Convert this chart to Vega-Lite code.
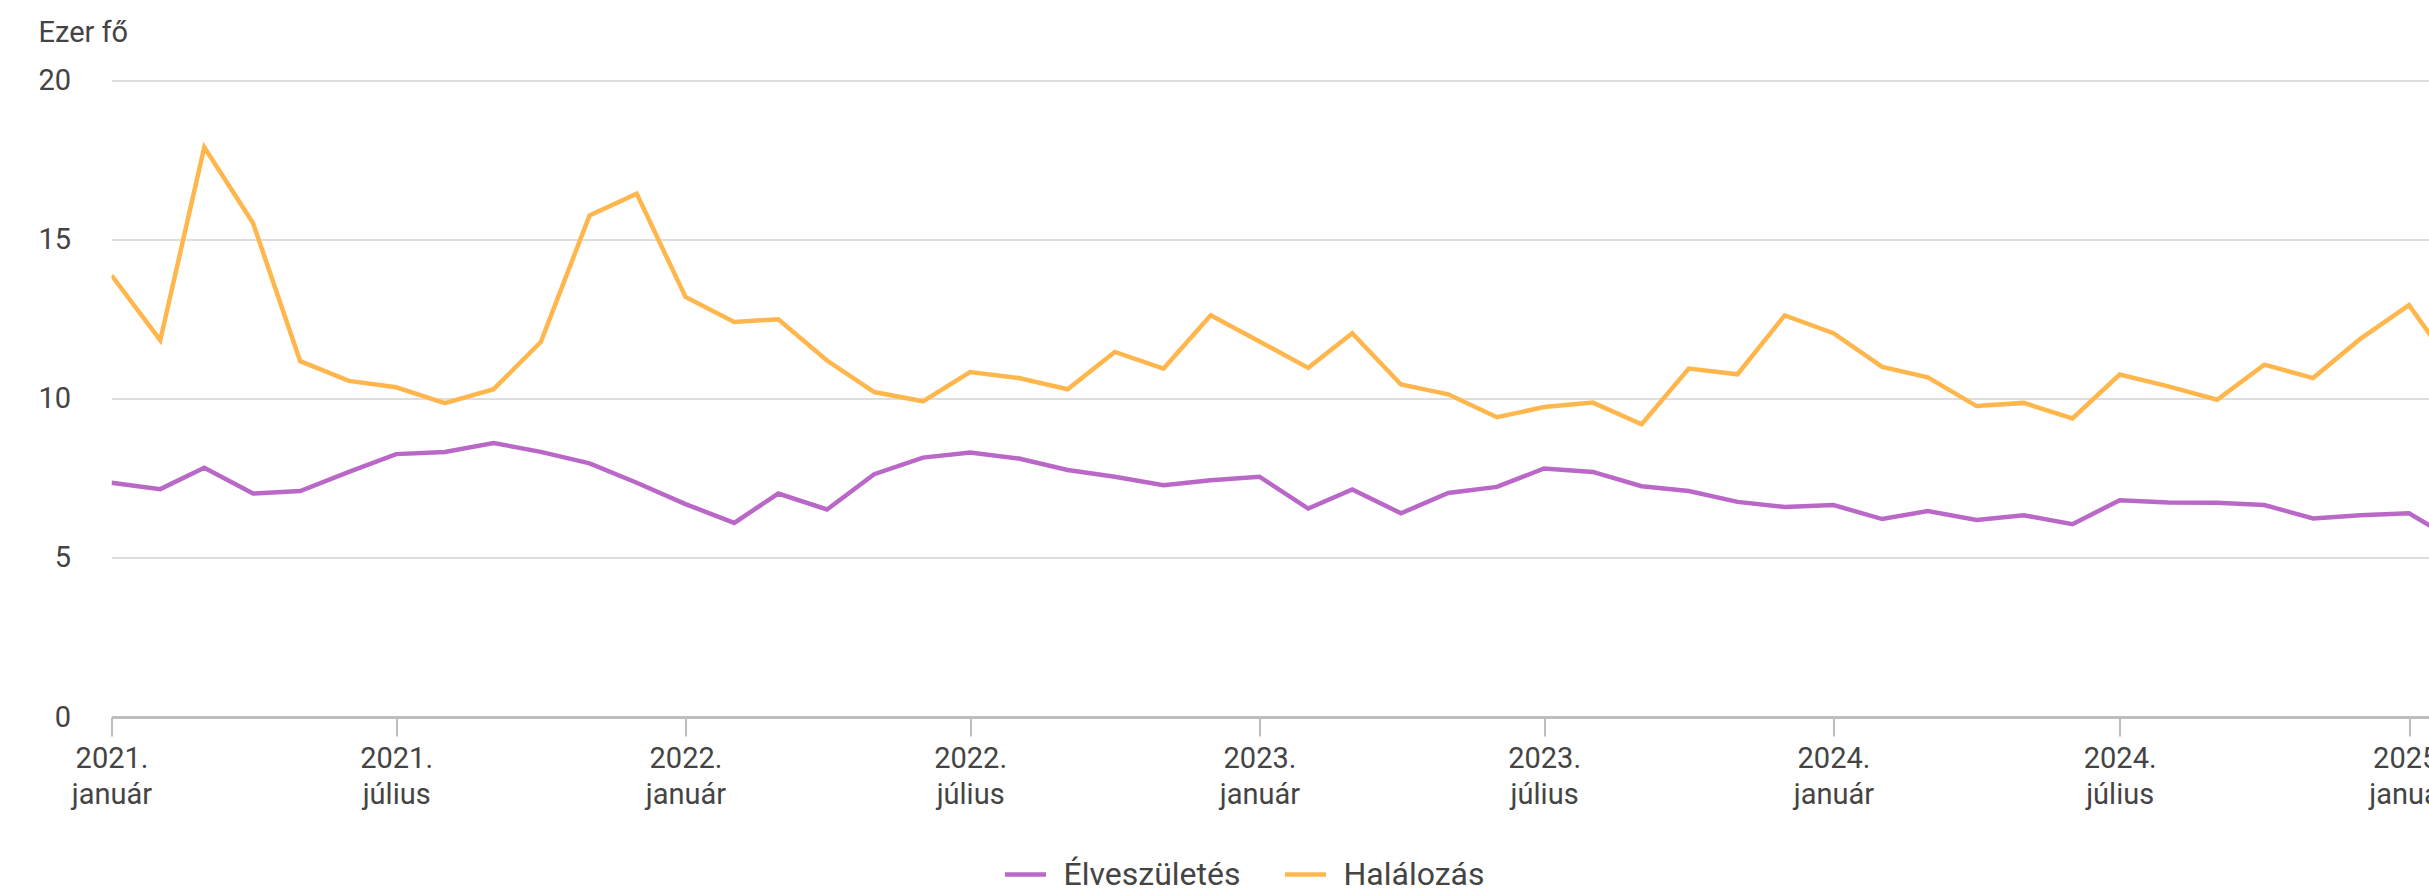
{
  "$schema": "https://vega.github.io/schema/vega-lite/v6.json",
  "width": 2317.5,
  "height": 636.5,
  "autosize": "none",
  "padding": {"left": 111.5, "top": 80.5, "right": 0, "bottom": 178},
  "background": "white",
  "config": {"view": {"stroke": null}, "font": "Roboto"},
  "data": {"values": [
    {"honap": "2021-01-01", "sorozat": "Élveszületés", "ertek": 7.36},
    {"honap": "2021-02-01", "sorozat": "Élveszületés", "ertek": 7.16},
    {"honap": "2021-03-01", "sorozat": "Élveszületés", "ertek": 7.83},
    {"honap": "2021-04-01", "sorozat": "Élveszületés", "ertek": 7.02},
    {"honap": "2021-05-01", "sorozat": "Élveszületés", "ertek": 7.1},
    {"honap": "2021-06-01", "sorozat": "Élveszületés", "ertek": 7.7},
    {"honap": "2021-07-01", "sorozat": "Élveszületés", "ertek": 8.26},
    {"honap": "2021-08-01", "sorozat": "Élveszületés", "ertek": 8.33},
    {"honap": "2021-09-01", "sorozat": "Élveszületés", "ertek": 8.61},
    {"honap": "2021-10-01", "sorozat": "Élveszületés", "ertek": 8.33},
    {"honap": "2021-11-01", "sorozat": "Élveszületés", "ertek": 7.97},
    {"honap": "2021-12-01", "sorozat": "Élveszületés", "ertek": 7.36},
    {"honap": "2022-01-01", "sorozat": "Élveszületés", "ertek": 6.69},
    {"honap": "2022-02-01", "sorozat": "Élveszületés", "ertek": 6.1},
    {"honap": "2022-03-01", "sorozat": "Élveszületés", "ertek": 7.02},
    {"honap": "2022-04-01", "sorozat": "Élveszületés", "ertek": 6.52},
    {"honap": "2022-05-01", "sorozat": "Élveszületés", "ertek": 7.63},
    {"honap": "2022-06-01", "sorozat": "Élveszületés", "ertek": 8.15},
    {"honap": "2022-07-01", "sorozat": "Élveszületés", "ertek": 8.31},
    {"honap": "2022-08-01", "sorozat": "Élveszületés", "ertek": 8.12},
    {"honap": "2022-09-01", "sorozat": "Élveszületés", "ertek": 7.76},
    {"honap": "2022-10-01", "sorozat": "Élveszületés", "ertek": 7.55},
    {"honap": "2022-11-01", "sorozat": "Élveszületés", "ertek": 7.28},
    {"honap": "2022-12-01", "sorozat": "Élveszületés", "ertek": 7.44},
    {"honap": "2023-01-01", "sorozat": "Élveszületés", "ertek": 7.55},
    {"honap": "2023-02-01", "sorozat": "Élveszületés", "ertek": 6.55},
    {"honap": "2023-03-01", "sorozat": "Élveszületés", "ertek": 7.15},
    {"honap": "2023-04-01", "sorozat": "Élveszületés", "ertek": 6.4},
    {"honap": "2023-05-01", "sorozat": "Élveszületés", "ertek": 7.04},
    {"honap": "2023-06-01", "sorozat": "Élveszületés", "ertek": 7.23},
    {"honap": "2023-07-01", "sorozat": "Élveszületés", "ertek": 7.81},
    {"honap": "2023-08-01", "sorozat": "Élveszületés", "ertek": 7.7},
    {"honap": "2023-09-01", "sorozat": "Élveszületés", "ertek": 7.25},
    {"honap": "2023-10-01", "sorozat": "Élveszületés", "ertek": 7.1},
    {"honap": "2023-11-01", "sorozat": "Élveszületés", "ertek": 6.76},
    {"honap": "2023-12-01", "sorozat": "Élveszületés", "ertek": 6.6},
    {"honap": "2024-01-01", "sorozat": "Élveszületés", "ertek": 6.66},
    {"honap": "2024-02-01", "sorozat": "Élveszületés", "ertek": 6.22},
    {"honap": "2024-03-01", "sorozat": "Élveszületés", "ertek": 6.47},
    {"honap": "2024-04-01", "sorozat": "Élveszületés", "ertek": 6.19},
    {"honap": "2024-05-01", "sorozat": "Élveszületés", "ertek": 6.34},
    {"honap": "2024-06-01", "sorozat": "Élveszületés", "ertek": 6.06},
    {"honap": "2024-07-01", "sorozat": "Élveszületés", "ertek": 6.81},
    {"honap": "2024-08-01", "sorozat": "Élveszületés", "ertek": 6.74},
    {"honap": "2024-09-01", "sorozat": "Élveszületés", "ertek": 6.73},
    {"honap": "2024-10-01", "sorozat": "Élveszületés", "ertek": 6.66},
    {"honap": "2024-11-01", "sorozat": "Élveszületés", "ertek": 6.24},
    {"honap": "2024-12-01", "sorozat": "Élveszületés", "ertek": 6.34},
    {"honap": "2025-01-01", "sorozat": "Élveszületés", "ertek": 6.4},
    {"honap": "2025-02-01", "sorozat": "Élveszületés", "ertek": 5.5},
    {"honap": "2021-01-01", "sorozat": "Halálozás", "ertek": 13.88},
    {"honap": "2021-02-01", "sorozat": "Halálozás", "ertek": 11.84},
    {"honap": "2021-03-01", "sorozat": "Halálozás", "ertek": 17.9},
    {"honap": "2021-04-01", "sorozat": "Halálozás", "ertek": 15.52},
    {"honap": "2021-05-01", "sorozat": "Halálozás", "ertek": 11.18},
    {"honap": "2021-06-01", "sorozat": "Halálozás", "ertek": 10.56},
    {"honap": "2021-07-01", "sorozat": "Halálozás", "ertek": 10.36},
    {"honap": "2021-08-01", "sorozat": "Halálozás", "ertek": 9.86},
    {"honap": "2021-09-01", "sorozat": "Halálozás", "ertek": 10.3},
    {"honap": "2021-10-01", "sorozat": "Halálozás", "ertek": 11.78},
    {"honap": "2021-11-01", "sorozat": "Halálozás", "ertek": 15.76},
    {"honap": "2021-12-01", "sorozat": "Halálozás", "ertek": 16.44},
    {"honap": "2022-01-01", "sorozat": "Halálozás", "ertek": 13.2},
    {"honap": "2022-02-01", "sorozat": "Halálozás", "ertek": 12.41},
    {"honap": "2022-03-01", "sorozat": "Halálozás", "ertek": 12.5},
    {"honap": "2022-04-01", "sorozat": "Halálozás", "ertek": 11.2},
    {"honap": "2022-05-01", "sorozat": "Halálozás", "ertek": 10.21},
    {"honap": "2022-06-01", "sorozat": "Halálozás", "ertek": 9.92},
    {"honap": "2022-07-01", "sorozat": "Halálozás", "ertek": 10.84},
    {"honap": "2022-08-01", "sorozat": "Halálozás", "ertek": 10.65},
    {"honap": "2022-09-01", "sorozat": "Halálozás", "ertek": 10.3},
    {"honap": "2022-10-01", "sorozat": "Halálozás", "ertek": 11.47},
    {"honap": "2022-11-01", "sorozat": "Halálozás", "ertek": 10.95},
    {"honap": "2022-12-01", "sorozat": "Halálozás", "ertek": 12.62},
    {"honap": "2023-01-01", "sorozat": "Halálozás", "ertek": 11.8},
    {"honap": "2023-02-01", "sorozat": "Halálozás", "ertek": 10.97},
    {"honap": "2023-03-01", "sorozat": "Halálozás", "ertek": 12.06},
    {"honap": "2023-04-01", "sorozat": "Halálozás", "ertek": 10.45},
    {"honap": "2023-05-01", "sorozat": "Halálozás", "ertek": 10.14},
    {"honap": "2023-06-01", "sorozat": "Halálozás", "ertek": 9.42},
    {"honap": "2023-07-01", "sorozat": "Halálozás", "ertek": 9.74},
    {"honap": "2023-08-01", "sorozat": "Halálozás", "ertek": 9.88},
    {"honap": "2023-09-01", "sorozat": "Halálozás", "ertek": 9.2},
    {"honap": "2023-10-01", "sorozat": "Halálozás", "ertek": 10.95},
    {"honap": "2023-11-01", "sorozat": "Halálozás", "ertek": 10.77},
    {"honap": "2023-12-01", "sorozat": "Halálozás", "ertek": 12.62},
    {"honap": "2024-01-01", "sorozat": "Halálozás", "ertek": 12.06},
    {"honap": "2024-02-01", "sorozat": "Halálozás", "ertek": 11.0},
    {"honap": "2024-03-01", "sorozat": "Halálozás", "ertek": 10.67},
    {"honap": "2024-04-01", "sorozat": "Halálozás", "ertek": 9.77},
    {"honap": "2024-05-01", "sorozat": "Halálozás", "ertek": 9.87},
    {"honap": "2024-06-01", "sorozat": "Halálozás", "ertek": 9.38},
    {"honap": "2024-07-01", "sorozat": "Halálozás", "ertek": 10.76},
    {"honap": "2024-08-01", "sorozat": "Halálozás", "ertek": 10.39},
    {"honap": "2024-09-01", "sorozat": "Halálozás", "ertek": 9.97},
    {"honap": "2024-10-01", "sorozat": "Halálozás", "ertek": 11.07},
    {"honap": "2024-11-01", "sorozat": "Halálozás", "ertek": 10.65},
    {"honap": "2024-12-01", "sorozat": "Halálozás", "ertek": 11.88},
    {"honap": "2025-01-01", "sorozat": "Halálozás", "ertek": 12.94},
    {"honap": "2025-02-01", "sorozat": "Halálozás", "ertek": 10.8}
  ]},
  "mark": {"type": "line", "strokeWidth": 4.5, "clip": true},
  "encoding": {
    "x": {
      "field": "honap",
      "type": "temporal",
      "scale": {
        "type": "utc",
        "nice": false,
        "domain": [
          {"year": 2021, "month": 1, "date": 1, "utc": true},
          {"year": 2025, "month": 1, "date": 13, "hours": 17, "utc": true}
        ]
      },
      "axis": {
        "title": null,
        "grid": false,
        "tickCount": {"interval": "month", "step": 6},
        "labelExpr": "[utcFormat(datum.value, '%Y.'), utcmonth(datum.value) == 0 ? 'január' : 'július']",
        "labelFont": "Roboto",
        "labelFontSize": 29,
        "labelColor": "#444444",
        "labelLineHeight": 36,
        "labelPadding": 8,
        "labelBaseline": "top",
        "labelFlush": false,
        "labelOverlap": false,
        "domainColor": "#bdbdbd",
        "domainWidth": 3,
        "tickColor": "#bdbdbd",
        "tickWidth": 2,
        "tickSize": 19
      }
    },
    "y": {
      "field": "ertek",
      "type": "quantitative",
      "scale": {"domain": [0, 20], "nice": false},
      "axis": {
        "title": "Ezer fő",
        "titleAngle": 0,
        "titleAlign": "left",
        "titleBaseline": "alphabetic",
        "titleX": -73.5,
        "titleY": -39,
        "titleFont": "Roboto",
        "titleFontSize": 29,
        "titleFontWeight": "normal",
        "titleColor": "#444444",
        "values": [0, 5, 10, 15, 20],
        "domain": false,
        "ticks": false,
        "tickSize": 0,
        "labelPadding": 41,
        "labelFont": "Roboto",
        "labelFontSize": 29,
        "labelColor": "#444444",
        "gridColor": "#dedede",
        "gridWidth": 2
      }
    },
    "color": {
      "field": "sorozat",
      "type": "nominal",
      "scale": {"domain": ["Élveszületés", "Halálozás"], "range": ["#BA68C8", "#FFB74D"]},
      "legend": {
        "title": null,
        "orient": "none",
        "direction": "horizontal",
        "legendX": 891,
        "legendY": 771,
        "symbolType": "stroke",
        "symbolSize": 1681,
        "symbolStrokeWidth": 4.5,
        "labelFont": "Roboto",
        "labelFontSize": 32,
        "labelColor": "#444444",
        "labelLimit": 500,
        "labelOffset": 15,
        "columnPadding": 35
      }
    }
  }
}
